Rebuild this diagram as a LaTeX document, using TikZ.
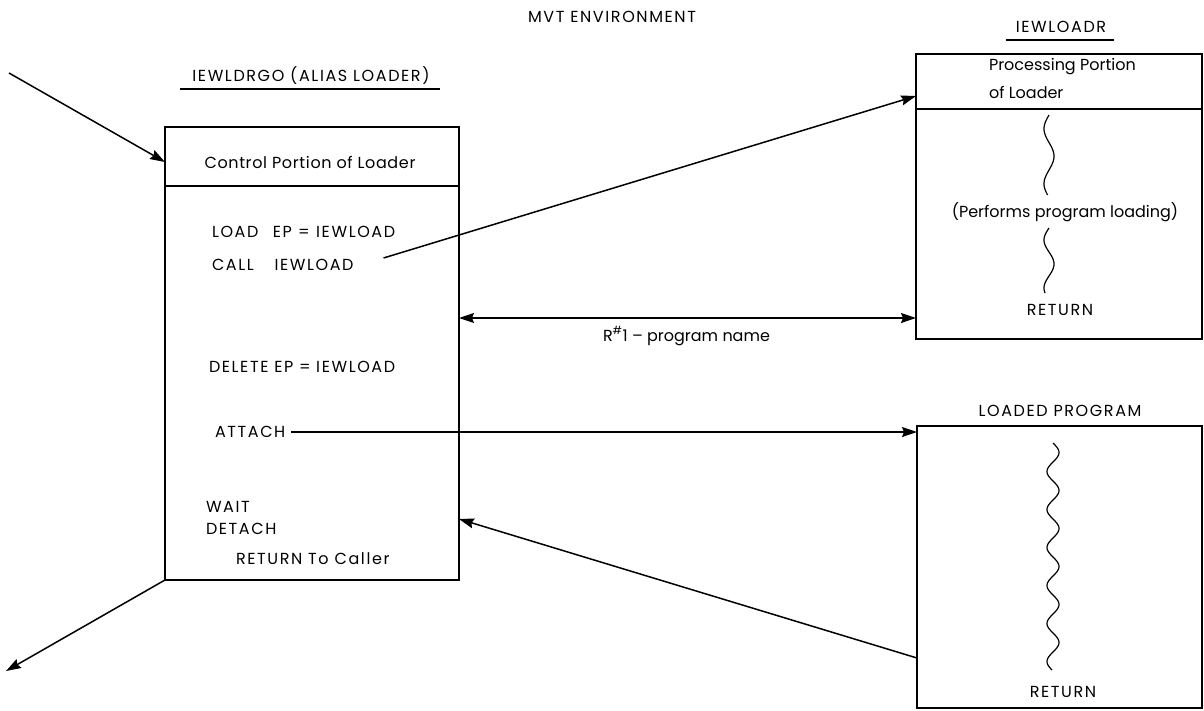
\documentclass[tikz,border=0pt]{standalone}
\usepackage{fontspec}
\setmainfont{Poppins}
\newfontfamily\capsfont[LetterSpace=10]{Poppins}
\newfontfamily\mixfont[LetterSpace=4]{Poppins}
\usetikzlibrary{arrows.meta,calc,positioning}
\begin{document}
\begin{tikzpicture}[x=1pt,y=-1pt,
  every node/.style={inner sep=0pt,outer sep=0pt,font=\fontsize{16}{19}\selectfont},
  lbl/.style={anchor=west},
  ctr/.style={anchor=center},
  caps/.style={font=\fontsize{16}{19}\capsfont},
  mix/.style={font=\fontsize{16}{19}\mixfont},
  frame/.style={draw,line width=2.2pt,rectangle,minimum width=#1},
  divider/.style={line width=1.5pt},
  conn/.style={line width=1.5pt},
  tip/.style={-{Stealth[length=15pt,width=10pt,inset=2pt]}},
  wave/.style={line width=1.2pt}]
\useasboundingbox (0,0) rectangle (1204,710);

% boxes
\node[frame=294pt,minimum height=453pt] (ctl) at (312,353.5) {};
\node[frame=286pt,minimum height=285pt] (proc) at (1059,196.5) {};
\node[frame=285pt,minimum height=282pt] (prog) at (1059.5,567) {};

% dividers
\draw[divider] (ctl.west |- 0,186) -- (ctl.east |- 0,186);
\draw[divider] (proc.west |- 0,109) -- (proc.east |- 0,109);

% titles
\node[ctr,caps] (env) at (612,17) {MVT ENVIRONMENT};
\node[ctr,caps] (ctltitle) at (311,76) {IEWLDRGO (ALIAS LOADER)};
\draw[line width=1.3pt] (180,89) -- (440,89);
\node[ctr,caps] (proctitle) at (1061,27) {IEWLOADR};
\draw[line width=1.3pt] (1006,40) -- (1114,40);
\node[ctr,caps] (progtitle) at (1060,411) {LOADED PROGRAM};

% left box contents
\node[ctr,mix] (ctlhead) at (310,162) {Control Portion of Loader};
\node[lbl,caps] (load) at (212,232) {LOAD\hspace{0.9em}EP\hspace{0.4em}=\hspace{0.4em}IEWLOAD};
\node[lbl,caps] (call) at (212,265) {CALL\hspace{1.3em}IEWLOAD};
\node[lbl,caps] (delete) at (209,367) {DELETE EP\hspace{0.35em}=\hspace{0.35em}IEWLOAD};
\node[lbl,caps] (attach) at (215,432) {ATTACH};
\node[lbl,caps] (wait) at (206,507) {WAIT};
\node[lbl,caps] (detach) at (206,529) {DETACH};
\node[lbl,caps] (ret) at (236,559) {RETURN To Caller};

% upper right box contents
\node[lbl] (prochead1) at (989,67) {Processing Portion};
\node[lbl] (prochead2) at (989,92) {of Loader};
\node[ctr] (performs) at (1065,212) {(Performs program loading)};
\node[ctr,caps] (procret) at (1060,310) {RETURN};
\draw[wave] plot[domain=115:195,samples=80,smooth] ({1049-5*sin((\x-115)*6.5455)},\x);
\draw[wave] plot[domain=228:293,samples=70,smooth] ({1049-5*sin((\x-228)*7.5)},\x);

% loaded program contents
\node[ctr,caps] (progret) at (1063,692) {RETURN};
\draw[wave] plot[domain=443:670,samples=200,smooth] ({1053+6*sin((\x-443)*9.4737)},\x);

% connectors
\coordinate (entry) at (9,73);
\coordinate (exit) at (6,671);
\draw[conn,tip] (entry) -- (ctlhead -| ctl.west);
\draw[conn,tip] ($(call.east)+(30,-7)$) -- ($(proc.north west)+(0,42)$);
\draw[conn,{Stealth[length=15pt,width=10pt,inset=2pt]}-{Stealth[length=15pt,width=10pt,inset=2pt]}]
  ($(ctl.north east)+(0,191)$) -- ($(proc.north west)+(0,264)$);
\node[lbl] (r1) at (603,336) {R\textsuperscript{\#}1 -- program name};
\draw[conn,tip] ($(attach.east)+(6,0)$) -- (attach.east -| prog.west);
\draw[conn,tip] ($(prog.north west)+(0,232)$) -- ($(ctl.north east)+(0,392)$);
\draw[conn,tip] (ctl.south west) -- (exit);
\end{tikzpicture}
\end{document}
